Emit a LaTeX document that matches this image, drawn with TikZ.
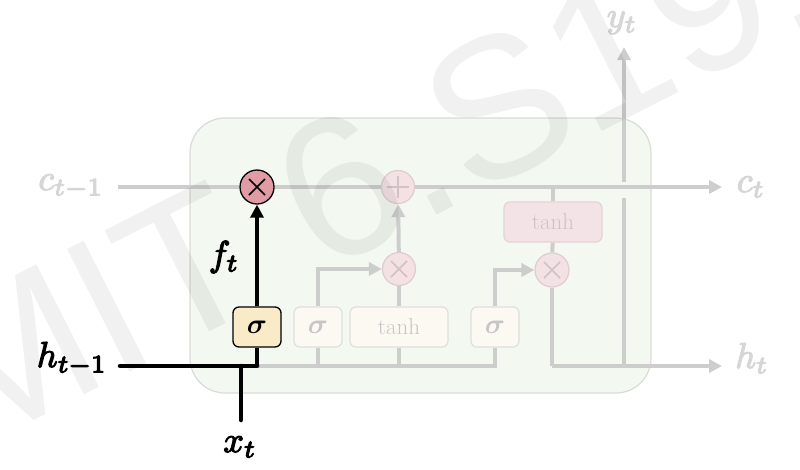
\documentclass[tikz,border=0pt]{standalone}
\usepackage{amsmath}
\usepackage{graphicx}
\usepackage{fontspec}
\newfontfamily\wmfont{Liberation Sans}
\usetikzlibrary{arrows.meta}

\definecolor{lgray}{RGB}{205,205,205}
\definecolor{labgray}{RGB}{214,214,214}
\definecolor{cellfill}{RGB}{243,248,241}
\definecolor{celledge}{RGB}{216,220,213}
\definecolor{redfill}{RGB}{224,155,164}
\definecolor{pinkfill}{RGB}{243,225,228}
\definecolor{pinkedge}{RGB}{222,204,208}
\definecolor{pinksign}{RGB}{208,194,197}
\definecolor{yellowfill}{RGB}{250,235,200}
\definecolor{palefill}{RGB}{251,249,241}
\definecolor{paleedge}{RGB}{224,223,218}
\definecolor{paletext}{RGB}{198,198,198}
\definecolor{tanhfill}{RGB}{244,227,230}
\definecolor{tanhedge}{RGB}{229,211,214}
\definecolor{tanhtext}{RGB}{212,192,196}

% enlarged math labels, slightly thickened by stroking the glyph outlines
\newcommand{\biglab}[1]{\scalebox{3.6}{\special{pdf:literal q 2 Tr 0.32 w}$#1$\special{pdf:literal Q}}}
\newcommand{\gatesig}{\scalebox{2.8}{$\boldsymbol{\sigma}$}}

\begin{document}
\begin{tikzpicture}[x=1pt,y=-1pt,
  gline/.style={draw=lgray, line width=4pt},
  bline/.style={draw=black, line width=4.5pt},
  tip/.style={-{Triangle[length=13pt,width=13pt]}},
  label/.style={inner sep=0pt},
  gatebox/.style={rectangle, rounded corners=6pt, minimum height=40pt, inner sep=0pt},
  mulsign/.style={path picture={
      \draw[#1, line width=1.5pt]
        ([shift={(-8,-8)}]path picture bounding box.center) -- ([shift={(8,8)}]path picture bounding box.center)
        ([shift={(-8,8)}]path picture bounding box.center) -- ([shift={(8,-8)}]path picture bounding box.center);}},
  addsign/.style={path picture={
      \draw[#1, line width=1.5pt]
        ([shift={(-11,0)}]path picture bounding box.center) -- ([shift={(11,0)}]path picture bounding box.center)
        ([shift={(0,-11)}]path picture bounding box.center) -- ([shift={(0,11)}]path picture bounding box.center);}},
]
\useasboundingbox (0,0) rectangle (800,469);

% cell body
\draw[draw=celledge, fill=cellfill, line width=1.2pt, rounded corners=35pt]
  (190,118) rectangle (651,393);

% pointwise operations
\node[circle, minimum size=34pt, inner sep=0pt, fill=redfill, draw=black, line width=1.3pt, mulsign=black] (fmul) at (257,187) {};
\node[circle, minimum size=33pt, inner sep=0pt, fill=pinkfill, draw=pinkedge, line width=1.2pt, addsign=pinksign] (plus) at (398,187) {};
\node[circle, minimum size=33pt, inner sep=0pt, fill=pinkfill, draw=pinkedge, line width=1.2pt, mulsign=pinksign] (imul) at (399,269) {};
\node[circle, minimum size=34pt, inner sep=0pt, fill=pinkfill, draw=pinkedge, line width=1.2pt, mulsign=pinksign] (omul) at (552,270) {};

% gate layers
\node[gatebox, minimum width=48pt, fill=yellowfill, draw=black, line width=1.3pt] (fgate) at (257,327) {\gatesig};
\node[gatebox, minimum width=48pt, fill=palefill, draw=paleedge, line width=1.2pt, text=paletext] (igate) at (318,327) {\gatesig};
\node[gatebox, minimum width=98pt, fill=palefill, draw=paleedge, line width=1.2pt, text=paletext,
      font=\fontsize{23}{26}\selectfont] (cgate) at (399,327) {tanh};
\node[gatebox, minimum width=48pt, fill=palefill, draw=paleedge, line width=1.2pt, text=paletext] (ogate) at (495,327) {\gatesig};
\node[gatebox, minimum width=98pt, fill=tanhfill, draw=tanhedge, line width=1.2pt, text=tanhtext,
      font=\fontsize{23}{26}\selectfont] (tanhc) at (553,222) {tanh};

% connector end points
\coordinate (cin)   at (118,187);
\coordinate (cout)  at (722,187);
\coordinate (hin)   at (120,366);
\coordinate (hjoin) at (257,366);
\coordinate (xin)   at (241,420);
\coordinate (xjoin) at (241,366);
\coordinate (hout)  at (722,366);
\coordinate (ybase) at (624,366);
\coordinate (ylow)  at (624,198);
\coordinate (yhigh) at (624,182);
\coordinate (ytop)  at (624,47);

% cell state line
\draw[gline] (cin) -- (fmul);
\draw[gline] (fmul) -- (plus);
\draw[gline, tip] (plus) -- (cout);
\draw[gline] (tanhc.north) -- (tanhc.north |- cin);

% faded internal paths
\draw[gline] (hjoin) -- (ogate.south |- hjoin) -- (ogate.south);
\draw[gline] (igate.south) -- (igate.south |- hjoin);
\draw[gline] (cgate.south) -- (cgate.south |- hjoin);
\draw[gline, tip] (igate.north) |- (imul);
\draw[gline] (cgate.north) -- (imul);
\draw[gline, tip] (imul) -- (plus);
\draw[gline, tip] (ogate.north) |- (omul);
\draw[gline] (tanhc) -- (omul);
\draw[gline] (omul) -- (omul |- hout);
\draw[gline, tip] (omul |- hout) -- (hout);
\draw[gline] (ybase) -- (ylow);
\draw[gline, tip] (yhigh) -- (ytop);

% highlighted forget-gate path
\draw[bline, line cap=round] (hin) -- (hjoin);
\draw[bline] (hjoin) -- (fgate.south);
\draw[bline, line cap=round] (xin) -- (xjoin);
\draw[bline, tip] (fgate.north) -- (fmul);

% labels
\node[label, text=labgray, anchor=base] (lcin) at (71,190) {\biglab{c_{t-1}}};
\node[label, text=labgray, anchor=base] (lcout) at (751,192) {\biglab{c_t}};
\node[label, text=black, anchor=base] (lhin) at (72,367) {\biglab{h_{t-1}}};
\node[label, text=labgray, anchor=base] (lhout) at (752,368) {\biglab{h_t}};
\node[label, text=labgray, anchor=base] (lyt) at (622,27) {\biglab{y_t}};
\node[label, text=black, anchor=base] (lxt) at (240,452) {\biglab{x_t}};
\node[label, text=black, anchor=base] (lft) at (224,266) {\biglab{f_t}};

% course watermark
\node[anchor=base west, rotate=27, inner sep=0pt, text=black, opacity=0.055,
      font=\wmfont\fontsize{200}{200}\selectfont] (wm) at (-35,456) {MIT 6.S191};
\end{tikzpicture}
\end{document}
